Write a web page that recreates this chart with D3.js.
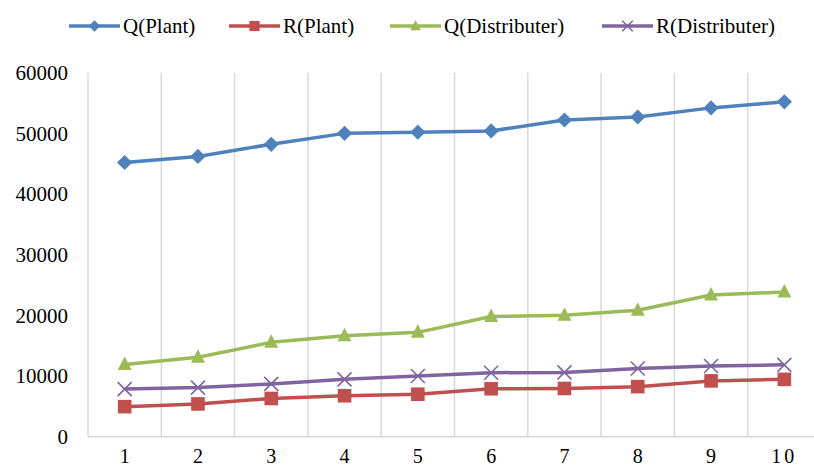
<!DOCTYPE html>
<html>
<head>
<meta charset="utf-8">
<script src="https://cdn.jsdelivr.net/npm/d3@7"></script>
<style>
  body { margin: 0; background: #fff; }
  svg text { font-family: "Times New Roman", "Liberation Serif", "Noto Serif", "DejaVu Serif", serif; }
</style>
</head>
<body>
<svg width="814" height="468"></svg>
<script>
const categories = ["1", "2", "3", "4", "5", "6", "7", "8", "9", "10"];
const qPlant = [45200, 46200, 48200, 50000, 50200, 50400, 52200, 52700, 54200, 55200];
const rPlant = [4950, 5400, 6300, 6750, 7000, 7900, 7950, 8250, 9200, 9450];
const qDistributer = [11900, 13100, 15550, 16650, 17200, 19800, 20000, 20850, 23350, 23850];
const rDistributer = [7850, 8100, 8700, 9450, 10000, 10550, 10600, 11250, 11650, 11850];
const yTicks = [0, 10000, 20000, 30000, 40000, 50000, 60000];

const series = [
  {name: "Q(Plant)", values: qPlant, color: "#4f81bd", marker: "diamond"},
  {name: "R(Plant)", values: rPlant, color: "#c0504d", marker: "square"},
  {name: "Q(Distributer)", values: qDistributer, color: "#9bbb59", marker: "triangle"},
  {name: "R(Distributer)", values: rDistributer, color: "#8064a2", marker: "cross"}
];

const svg = d3.select("svg");
const grid = "#d9d9d9";

// plot area
const x = d3.scaleBand().domain(categories).range([88, 821]);
const y = d3.scaleLinear().domain([0, 60000]).range([436.7, 72.7]);

// vertical gridlines at category boundaries
svg.append("g")
  .selectAll("line")
  .data(categories)
  .join("line")
    .attr("x1", d => x(d)).attr("x2", d => x(d))
    .attr("y1", y(60000)).attr("y2", y(0))
    .attr("stroke", grid).attr("stroke-width", 1.5);

// x axis line
svg.append("line")
  .attr("x1", x.range()[0]).attr("x2", x.range()[1])
  .attr("y1", y(0)).attr("y2", y(0))
  .attr("stroke", grid).attr("stroke-width", 1.5);

// y tick labels
svg.append("g")
  .selectAll("text")
  .data(yTicks)
  .join("text")
    .attr("x", 68)
    .attr("y", d => y(d))
    .attr("dy", "0.34em")
    .attr("text-anchor", "end")
    .style("font-size", "21px")
    .text(d => d);

// x tick labels
svg.append("g")
  .selectAll("text")
  .data(categories)
  .join("text")
    .attr("x", d => x(d) + x.bandwidth() / 2)
    .attr("y", 463)
    .attr("text-anchor", "middle")
    .style("font-size", "20px")
    .style("letter-spacing", d => d.length > 1 ? "3px" : null)
    .text(d => d);

function drawMarker(g, type, color, s) {
  if (type === "diamond") {
    g.append("path").attr("d", `M0,${-7.6*s}L${7.6*s},0L0,${7.6*s}L${-7.6*s},0Z`).attr("fill", color);
  } else if (type === "square") {
    g.append("rect").attr("x", -6.8*s).attr("y", -6.8*s).attr("width", 13.6*s).attr("height", 13.6*s).attr("fill", color);
  } else if (type === "triangle") {
    g.append("path").attr("d", `M0,${-8*s}L${7*s},${5.5*s}L${-7*s},${5.5*s}Z`).attr("fill", color);
  } else {
    g.append("path").attr("d", `M${-7*s},${-7*s}L${7*s},${7*s}M${-7*s},${7*s}L${7*s},${-7*s}`)
      .attr("stroke", color).attr("stroke-width", 1.6).attr("fill", "none");
  }
}

const line = d3.line()
  .x((d, i) => x(categories[i]) + x.bandwidth() / 2)
  .y(d => y(d));

series.forEach(s => {
  svg.append("path")
    .datum(s.values)
    .attr("d", line)
    .attr("fill", "none")
    .attr("stroke", s.color)
    .attr("stroke-width", 3.5)
    .attr("stroke-linejoin", "round");

  svg.append("g")
    .selectAll("g")
    .data(s.values)
    .join("g")
      .attr("transform", (d, i) => `translate(${x(categories[i]) + x.bandwidth() / 2},${y(d)})`)
      .each(function () { drawMarker(d3.select(this), s.marker, s.color, 1); });
});

// legend
const legendX = [69, 229, 390, 602];
const legend = svg.append("g");
series.forEach((s, i) => {
  const g = legend.append("g").attr("transform", `translate(${legendX[i]},26)`);
  g.append("line").attr("x1", 0).attr("x2", 51).attr("y1", 0).attr("y2", 0)
    .attr("stroke", s.color).attr("stroke-width", 3.5);
  drawMarker(g.append("g").attr("transform", "translate(25.5,0)"), s.marker, s.color, 0.75);
  g.append("text")
    .attr("x", 54)
    .attr("dy", "0.34em")
    .style("font-size", "21px")
    .text(s.name);
});
</script>
</body>
</html>
